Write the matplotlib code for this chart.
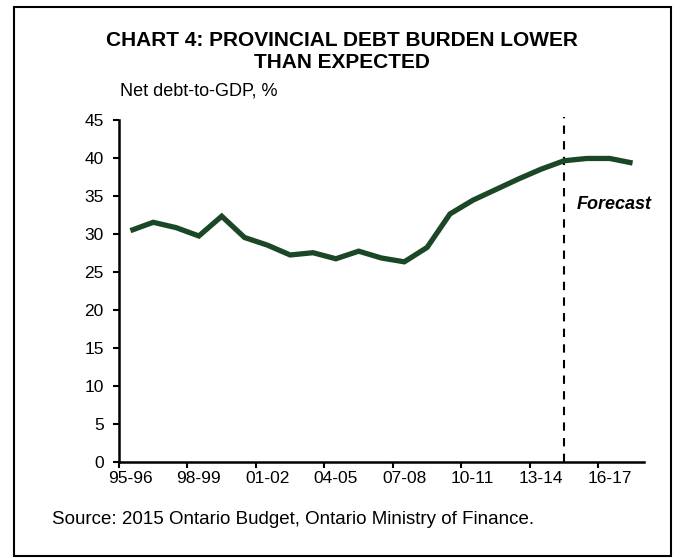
import matplotlib
matplotlib.use('Agg')
import matplotlib.pyplot as plt
from matplotlib.patches import Rectangle

plt.rcParams['font.family'] = ['Liberation Sans', 'DejaVu Sans']

# Fiscal years 95-96 .. 17-18
years = ['95-96', '96-97', '97-98', '98-99', '99-00', '00-01', '01-02', '02-03',
         '03-04', '04-05', '05-06', '06-07', '07-08', '08-09', '09-10', '10-11',
         '11-12', '12-13', '13-14', '14-15', '15-16', '16-17', '17-18']
net_debt_gdp = [30.4, 31.5, 30.8, 29.7, 32.3, 29.5, 28.5, 27.2, 27.5, 26.7, 27.7,
                26.8, 26.3, 28.2, 32.6, 34.4, 35.8, 37.2, 38.5, 39.6, 39.9, 39.9, 39.3]
forecast_start = '14-15'
y_ticks = [0, 5, 10, 15, 20, 25, 30, 35, 40, 45]

fig = plt.figure(figsize=(6.8, 5.58), dpi=100)
fig.patch.set_facecolor('white')

# outer frame
fig.add_artist(Rectangle((14 / 680, 2 / 558), 657 / 680, 549 / 558,
                         transform=fig.transFigure, fill=False,
                         edgecolor='black', linewidth=1.5))

ax = fig.add_axes([119 / 680, 96.3 / 558, 525 / 680, 342 / 558])

x = list(range(len(years)))
ax.plot(x, net_debt_gdp, color='#1c4727', linewidth=3.8,
        solid_joinstyle='miter', solid_capstyle='butt', zorder=3)

fx = years.index(forecast_start)
ax.plot([fx, fx], [0, 45.3], color='black', linewidth=1.5,
        linestyle=(0, (4, 3.5)), zorder=2, clip_on=False)
ax.text(fx + 0.55, 33.8, 'Forecast', fontsize=13, fontweight='bold',
        fontstyle='italic', ha='left', va='center')

ax.set_xlim(-0.5, len(years) - 0.5)
ax.set_ylim(0, 45)
ax.set_yticks(y_ticks)

# ticks at category boundaries, labels centred in the categories
ax.set_xticks([i - 0.5 for i in range(0, len(years), 3)])
ax.set_xticklabels([])
ax.set_xticks(list(range(0, len(years), 3)), minor=True)
ax.set_xticklabels(years[::3], minor=True)
ax.tick_params(axis='x', which='minor', length=0, pad=7, labelsize=12.5)
ax.tick_params(axis='x', which='major', direction='out', length=4, width=1.5)
ax.tick_params(axis='y', direction='out', length=4, width=1.5, labelsize=12.5, pad=7)

for s in ['top', 'right']:
    ax.spines[s].set_visible(False)
for s in ['left', 'bottom']:
    ax.spines[s].set_linewidth(1.8)

fig.text(342 / 680, 1 - 40 / 558, 'CHART 4: PROVINCIAL DEBT BURDEN LOWER',
         ha='center', va='center', fontsize=15, fontweight='bold')
fig.text(342 / 680, 1 - 63 / 558, 'THAN EXPECTED',
         ha='center', va='center', fontsize=15, fontweight='bold')
fig.text(120 / 680, 1 - 91 / 558, 'Net debt-to-GDP, %', ha='left', va='center',
         fontsize=13)
fig.text(52 / 680, 1 - 520 / 558,
         'Source: 2015 Ontario Budget, Ontario Ministry of Finance.',
         ha='left', va='center', fontsize=13.5)

fig.savefig('out.png', dpi=100, facecolor='white')
